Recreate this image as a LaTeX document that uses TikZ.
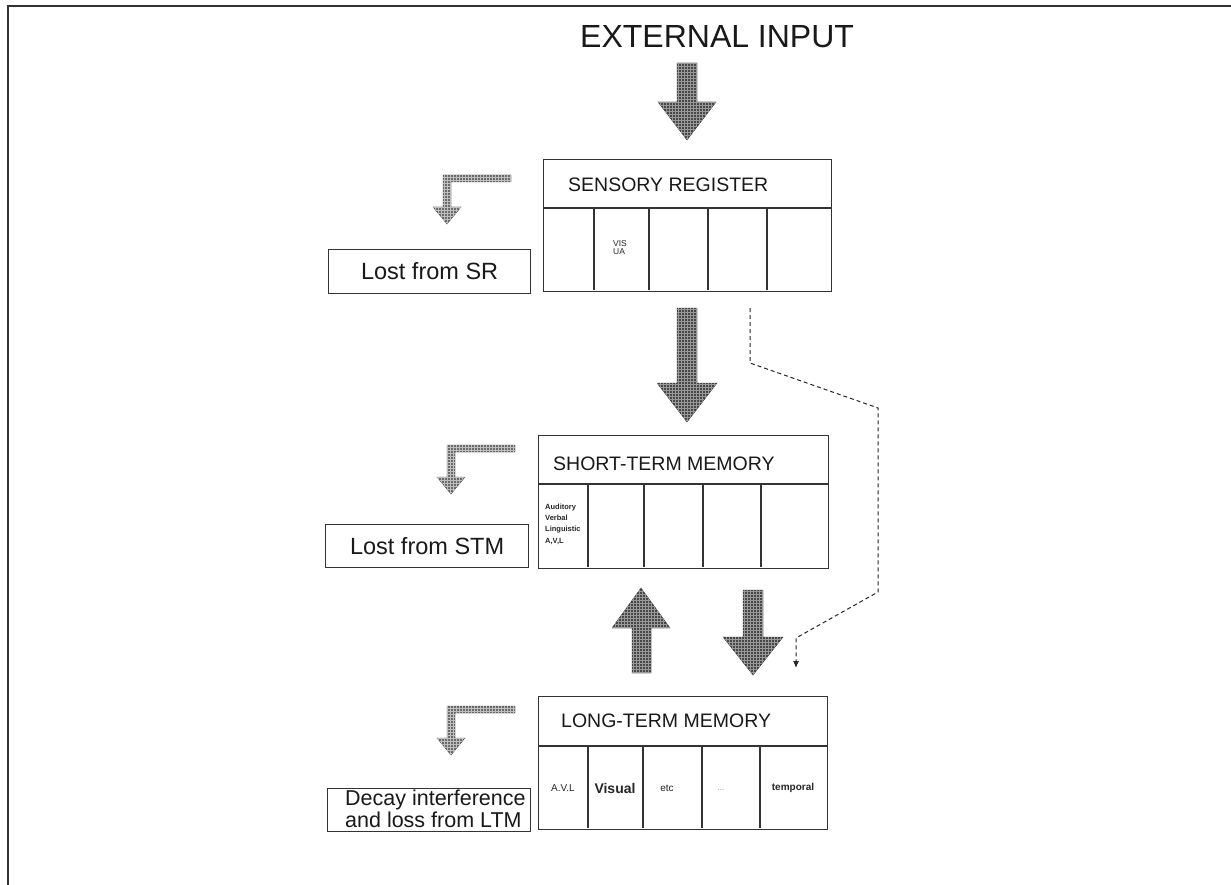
\documentclass[tikz,border=0pt]{standalone}
\usepackage{fontspec}
\setmainfont{Liberation Sans}
\usetikzlibrary{arrows.meta,patterns}
\begin{document}
\begin{tikzpicture}[x=1pt,y=-1pt,
  line/.style={draw=black!80,line width=1.2pt},
  box/.style={line,rectangle,inner sep=0pt,anchor=north west},
  big/.style={fill=black!72,draw=black!80,line width=0.4pt,postaction={pattern=grid,pattern color=black!40}},
  bent/.style={fill=black!58,draw=black!70,line width=0.4pt,postaction={pattern=grid,pattern color=black!25}},
  hdr/.style={font=\fontsize{19.5}{20}\selectfont,anchor=base west,inner sep=0pt,text=black!90},
  lostbox/.style={box,font=\fontsize{23.5}{24}\selectfont,text=black!90},
  tiny/.style={inner sep=0pt,text=black!85},
  dashline/.style={draw=black!85,line width=1pt,dash pattern=on 4pt off 3pt},
  bentarrow/.pic={\path[bent] (68,0) -- (0,0) -- (0,32) -- (-10,32) -- (4,49) -- (18,32) -- (8,32) -- (8,7) -- (68,7) -- cycle;}
]
\useasboundingbox (0,0) rectangle (1231,885);
\fill[white] (0,0) rectangle (1231,885);
% frame
\draw[line width=2pt,black!80] (8,885) -- (8,6) -- (1231,6);

% title
\node[anchor=base west,inner sep=0pt,font=\fontsize{32}{34}\selectfont,text=black!90] (ext) at (580,48) {EXTERNAL INPUT};

% big arrows
\path[big] (677,63) -- (697,63) -- (697,102) -- (716,102) -- (687,140) -- (658,102) -- (677,102) -- cycle;
\path[big] (677,308) -- (697,308) -- (697,383) -- (717,383) -- (687,422) -- (657,383) -- (677,383) -- cycle;
\path[big] (632,673) -- (651,673) -- (651,628) -- (670,628) -- (641,588) -- (612,628) -- (632,628) -- cycle;
\path[big] (743,590) -- (763,590) -- (763,637) -- (783,637) -- (753,675) -- (723,637) -- (743,637) -- cycle;

% sensory register
\node[box,minimum width=288pt,minimum height=48pt] (sr) at (543,159) {};
\node[box,minimum width=288pt,minimum height=83pt] (srb) at (sr.south west) {};
\foreach \x in {594,649,708,767} \draw[line] (\x,207) -- (\x,290);
\node[hdr] (srt) at (568,192) {SENSORY REGISTER};
\node[tiny,anchor=base west,align=left,font=\fontsize{8.5}{8}\selectfont] (vis) at (613,255) {VIS\\UA};

% short-term memory
\node[box,minimum width=290pt,minimum height=48pt] (stm) at (538,435) {};
\node[box,minimum width=290pt,minimum height=84pt] (stmb) at (stm.south west) {};
\foreach \x in {588,644,703,761} \draw[line] (\x,483) -- (\x,567);
\node[hdr] (stmt) at (553,470) {SHORT-TERM MEMORY};
\node[tiny,anchor=base west,align=left,font=\fontsize{7.5}{11.3}\selectfont\bfseries] (avl1) at (545,543) {Auditory\\Verbal\\Linguistic\\A,V,L};

% long-term memory
\node[box,minimum width=289pt,minimum height=49pt] (ltm) at (538,696) {};
\node[box,minimum width=289pt,minimum height=83pt] (ltmb) at (ltm.south west) {};
\foreach \x in {588,643,702,760} \draw[line] (\x,745) -- (\x,828);
\node[hdr] (ltmt) at (561,727) {LONG-TERM MEMORY};
\node[tiny,font=\fontsize{10}{10}\selectfont] (c1) at (563,788) {A.V.L};
\node[tiny,font=\fontsize{14}{14}\selectfont\bfseries] (c2) at (615,788) {Visual};
\node[tiny,font=\fontsize{10}{10}\selectfont] (c3) at (667,788) {etc};
\node[tiny,font=\fontsize{8}{8}\selectfont,text=black!45] (c4) at (721,790) {...};
\node[tiny,font=\fontsize{10}{10}\selectfont\bfseries] (c5) at (793,788) {temporal};

% lost boxes
\node[lostbox,minimum width=202pt,minimum height=44pt] (lsr) at (328,249) {Lost from SR};
\node[lostbox,minimum width=203pt,minimum height=43pt] (lstm) at (325,524) {Lost from STM};
\node[box,minimum width=203pt,minimum height=43pt] (lltm) at (327,788) {};
\node[anchor=base west,align=left,inner sep=0pt,font=\fontsize{21.5}{20}\selectfont,text=black!90] (decay) at (345,827) {Decay interference\\and loss from LTM};

% bent arrows
\pic at (443,175) {bentarrow};
\pic at (447,445) {bentarrow};
\pic at (447,706) {bentarrow};

% dashed connector
\coordinate (d0) at (750,308);
\coordinate (d1) at (796,668);
\draw[dashline,-{Latex[length=7pt,width=6pt]}] (d0) -- (750,363) -- (878,408) -- (878,592) -- (796,638) -- (d1);
\end{tikzpicture}
\end{document}
